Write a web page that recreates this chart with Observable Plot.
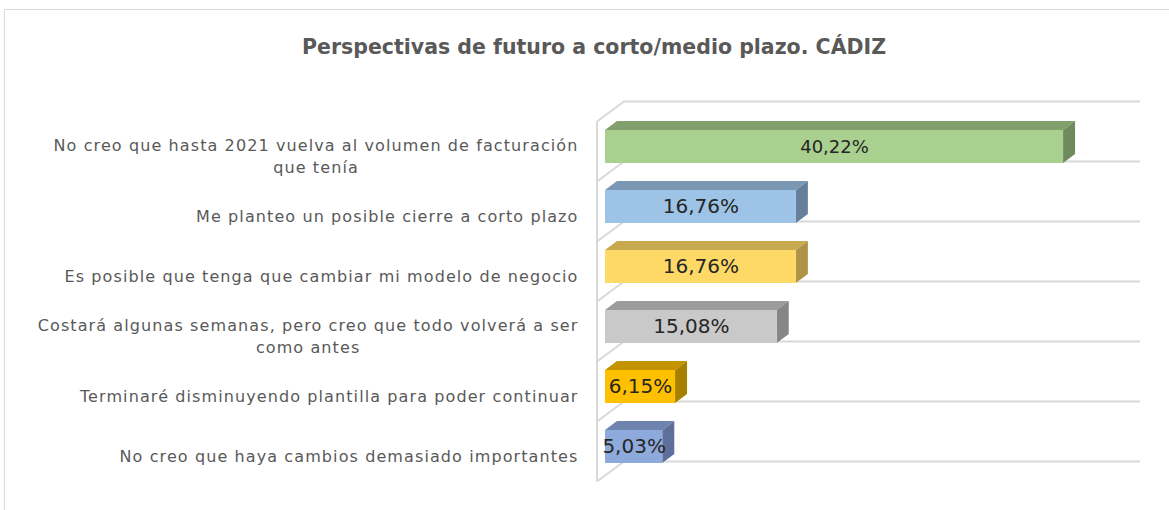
<!DOCTYPE html>
<html>
<head>
<meta charset="utf-8">
<script src="https://cdn.jsdelivr.net/npm/d3@7"></script>
<script src="https://cdn.jsdelivr.net/npm/@observablehq/plot@0.6"></script>
<style>
  html, body { margin: 0; padding: 0; background: #fff; }
  body { width: 1169px; height: 510px; position: relative; overflow: hidden; }
  #frame { position: absolute; left: 4px; top: 9px; width: 1200px; height: 520px;
           border-left: 1px solid #d9d9d9; border-top: 1px solid #d9d9d9; }
  #title { position: absolute; left: 4px; width: 1180px; top: 35px; text-align: center;
           font-family: "DejaVu Sans", sans-serif; font-weight: bold; font-size: 20.5px;
           line-height: 24px; color: #595959; }
  #chart { position: absolute; left: 0; top: 0; }
</style>
</head>
<body>
<div id="frame"></div>
<div id="title">Perspectivas de futuro a corto/medio plazo. CÁDIZ</div>
<div id="chart"></div>
<script>
const categories = [
  "No creo que hasta 2021 vuelva al volumen de facturación que tenía",
  "Me planteo un posible cierre a corto plazo",
  "Es posible que tenga que cambiar mi modelo de negocio",
  "Costará algunas semanas, pero creo que todo volverá a ser como antes",
  "Terminaré disminuyendo plantilla para poder continuar",
  "No creo que haya cambios demasiado importantes"
];
const tickLabels = [
  "No creo que hasta 2021 vuelva al volumen de facturación\nque tenía",
  "Me planteo un posible cierre a corto plazo",
  "Es posible que tenga que cambiar mi modelo de negocio",
  "Costará algunas semanas, pero creo que todo volverá a ser\ncomo antes",
  "Terminaré disminuyendo plantilla para poder continuar",
  "No creo que haya cambios demasiado importantes"
];
const values = [40.22, 16.76, 16.76, 15.08, 6.15, 5.03];
const frontColors = ["#A9D08E", "#9DC3E6", "#FFD966", "#C9C9C9", "#FFC000", "#8EA9DB"];
const topColors   = ["#82A06C", "#7A97B3", "#C8A94F", "#9C9C9C", "#C49400", "#6E84AE"];
const sideColors  = ["#6F8A5C", "#67809A", "#B09445", "#868686", "#A88000", "#5E7099"];
const xMax = 45;

const data = categories.map((c, i) => ({
  cat: c, label: tickLabels[i], value: values[i],
  vlabel: values[i].toFixed(2).replace(".", ",") + "%",
  front: frontColors[i], top: topColors[i], side: sideColors[i]
}));

// 3D walls / gridlines drawn from the scales
function walls(index, scales) {
  const {x, y} = scales;
  const bw = y.bandwidth();
  const step = y.step();
  const dom = y.domain();
  const x0 = x(0), xR = x(xMax);
  const bounds = [y(dom[0]) + bw - step - 1.5].concat(dom.map(c => y(c) + bw - 1.5));
  const g = d3.create("svg:g").attr("fill", "none").attr("stroke", "#d9d9d9").attr("stroke-width", 2);
  for (const b of bounds) {
    g.append("path").attr("d", `M${x0 - 8},${b + 20}L${x0 + 19},${b}L${xR + 22.5},${b}`);
  }
  g.append("path").attr("d", `M${x0 - 8},${bounds[0] + 20}L${x0 - 8},${bounds[bounds.length - 1] + 20}`);
  return g.node();
}

// top and side faces of each 3D bar
function faces(index, scales) {
  const {x, y} = scales;
  const bw = y.bandwidth();
  const dx = 12, dy = -9;
  const g = d3.create("svg:g");
  for (const d of data) {
    const x0 = x(0), x1 = x(d.value), yt = y(d.cat), yb = yt + bw;
    g.append("path").attr("fill", d.top)
      .attr("d", `M${x0},${yt}L${x0 + dx},${yt + dy}L${x1 + dx},${yt + dy}L${x1},${yt}Z`);
    g.append("path").attr("fill", d.side)
      .attr("d", `M${x1},${yt}L${x1 + dx},${yt + dy}L${x1 + dx},${yb + dy}L${x1},${yb}Z`);
  }
  return g.node();
}

const chart = Plot.plot({
  width: 1169,
  height: 510,
  marginLeft: 605,
  marginRight: 51.5,
  marginTop: 115,
  marginBottom: 32,
  style: {background: "transparent", overflow: "visible"},
  x: {domain: [0, xMax], axis: null},
  y: {domain: categories, axis: null, paddingInner: 0.445, paddingOuter: 0.2225},
  color: {type: "identity"},
  marks: [
    walls,
    faces,
    Plot.rectX(data, {x: "value", y: "cat", fill: "front"}),
    Plot.text(data, {filter: (d, i) => i === 0, x: d => d.value / 2, y: "cat", text: "vlabel",
      fontSize: 18, fill: "#262626", fontFamily: "DejaVu Sans"}),
    Plot.text(data, {filter: (d, i) => i > 0, x: d => d.value / 2, y: "cat", text: "vlabel",
      fontSize: 20, fill: "#262626", fontFamily: "DejaVu Sans"}),
    Plot.text(data, {x: 0, y: "cat", text: "label", textAnchor: "end", dx: -27, dy: 8,
      fontSize: 16, lineHeight: 1.4, fill: "#595959", fontFamily: "DejaVu Sans",
      className: "catlabel"})
  ]
});
document.getElementById("chart").append(chart);

// Center wrapped category labels under their longest line (right-aligned block)
chart.querySelectorAll(".catlabel text, text.catlabel").forEach(t => {
  t.style.letterSpacing = "1.1px";
});
chart.querySelectorAll("g.catlabel text").forEach(t => {
  const spans = t.querySelectorAll("tspan");
  if (spans.length > 1) {
    const w = Math.max(...Array.from(spans, s => s.getComputedTextLength()));
    t.setAttribute("text-anchor", "middle");
    spans.forEach(s => s.setAttribute("x", -w / 2));
  }
});
</script>
</body>
</html>
